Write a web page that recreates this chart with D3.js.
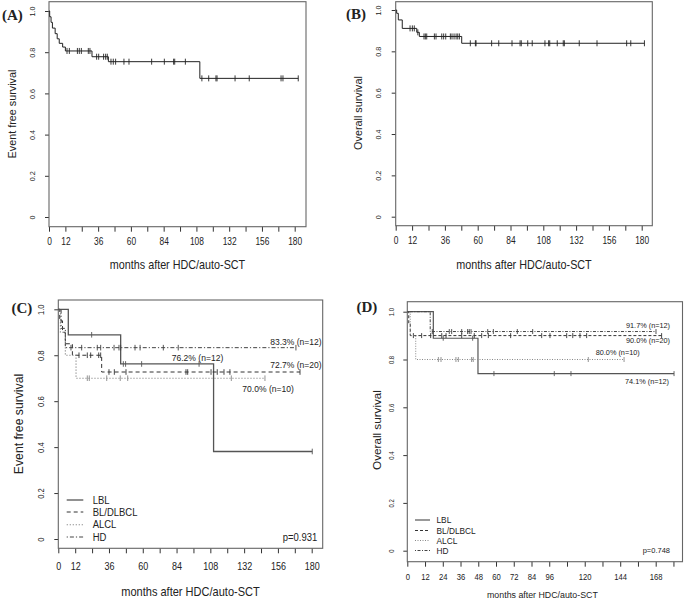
<!DOCTYPE html>
<html><head><meta charset="utf-8">
<script src="https://cdn.jsdelivr.net/npm/d3@7"></script>
<style>
body{margin:0;background:#fff}
svg{display:block}
text{font-family:"Liberation Sans",Arial,Helvetica,sans-serif;fill:#222}
</style>
</head><body>
<svg id="c" width="685" height="601"></svg>
<script>
// ---------- shared axis data ----------
const monthTicks = [0,12,24,36,48,60,72,84,96,108,120,132,144,156,168,180];
const monthLabelsABC = [0,12,36,60,84,108,132,156,180];
const monthLabelsD = [0,12,24,36,48,60,72,84,96,120,144,168];
const survTicks = [0,0.2,0.4,0.6,0.8,1.0];
const survTickLabels = ["0","0.2","0.4","0.6","0.8","1.0"];
const groupNames = ["LBL","BL/DLBCL","ALCL","HD"];

// ---------- (A) event free survival, all patients ----------
const efsAllTimes = [0,0.5,1.5,2.5,4.5,6,7.5,10,12,31.5,43.5,110.5];
const efsAllSurv  = [1,0.972,0.945,0.917,0.89,0.865,0.843,0.825,0.806,0.778,0.754,0.673];
const efsAllCensor = [13.2,14.9,20.8,22.2,23.7,28.8,30,34.9,36.4,40,41.5,42.7,45.4,47.1,48.8,54.9,58.6,75.2,84.5,91.3,92.1,99.9,112,117,122.3,123.1,136.3,146.7,170,171.4,182.6];
const efsAllEnd = 182.6;

// ---------- (B) overall survival, all patients ----------
const osAllTimes = [0,0.7,1.9,4.8,15.4,17.3,48.3];
const osAllSurv  = [1,0.984,0.952,0.911,0.892,0.872,0.839];
const osAllCensor = [10.5,12.2,13.6,16.2,20.7,21.7,22.7,28.3,29.5,33.7,35.1,36.6,40,41.2,42.7,44.2,45.4,46.6,54.6,58.3,58.8,70.2,75.4,85.1,91,91.9,96.6,99.9,109.2,111.9,112.7,118.2,122.6,123.4,134.3,147.3,169,172,182];
const osAllEnd = 182;

// ---------- (C) event free survival by group ----------
const efsLBLTimes = [0,7.1,44.3,110.3];
const efsLBLSurv  = [1,0.889,0.762,0.381];
const efsLBLCensor = [23.7,46.2,47.8,59.2,100,180.4];
const efsLBLEnd = 180.4;
const efsBLTimes = [0,1,3,5,10,30.8];
const efsBLSurv  = [1,0.95,0.9,0.85,0.8,0.727];
const efsBLCensor = [14.7,20.6,23,28.7,30.1,36,39.8,48.1,90.7,91.9,108.5,112.9,117.7,121.9,171.7];
const efsBLEnd = 171.7;
const efsALCLTimes = [0,1.5,5,12.6];
const efsALCLSurv  = [1,0.9,0.8,0.7];
const efsALCLCensor = [20.6,22,34.4,44,49.3,122.9,146.8];
const efsALCLEnd = 146.8;
const efsHDTimes = [0,2,5];
const efsHDSurv  = [1,0.917,0.833];
const efsHDCensor = [9,16.6,27.7,30.1,39.6,43.1,44.3,54.5,58.1,74.6,85.2,168.8];
const efsHDEnd = 168.8;
const efsGroupLabels = ["76.2% (n=12)","72.7% (n=20)","70.0% (n=10)","83.3% (n=12)"];
const efsPValue = "p=0.931";

// ---------- (D) overall survival by group ----------
const osLBLTimes = [0,17.6,47.8];
const osLBLSurv  = [1,0.889,0.741];
const osLBLCensor = [24.3,44.2,58.6,99.4,110.7,180.4];
const osLBLEnd = 180.4;
const osBLTimes = [0,1,2];
const osBLSurv  = [1,0.95,0.9];
const osBLCensor = [4.1,9.7,15.8,23.3,26.2,36.8,45.3,50.3,54.8,69.9,90.9,96.5,107.8,111.9,116.8,121.3,172];
const osBLEnd = 172;
const osALCLTimes = [0,2,5.7];
const osALCLSurv  = [1,0.9,0.8];
const osALCLCensor = [21,22.8,32.9,34.5,43.5,44.6,122.4,146.6];
const osALCLEnd = 146.6;
const osHDTimes = [0,15.5];
const osHDSurv  = [1,0.917];
const osHDCensor = [16.9,28.4,30,36.8,40.8,41.9,43.1,54.4,58.2,74.4,84.8,168.2];
const osHDEnd = 168.2;
const osGroupLabels = ["74.1% (n=12)","90.0% (n=20)","80.0% (n=10)","91.7% (n=12)"];
const osPValue = "p=0.748";

// ---------- drawing ----------
const svg = d3.select("#c");

function label(g, x, y, str, o = {}) {
  const t = g.append("text")
    .attr("transform", `translate(${x},${y}) rotate(${o.rot || 0}) scale(${o.sx || 1},1)`)
    .attr("text-anchor", o.anchor || "middle")
    .attr("dominant-baseline", "central")
    .style("font-size", (o.size || 11) + "px")
    .text(str);
  if (o.family) t.style("font-family", o.family);
  if (o.weight) t.style("font-weight", o.weight);
  return t;
}

function survAt(times, surv, t) {
  let s = surv[0];
  for (let i = 0; i < times.length; i++) if (times[i] <= t) s = surv[i];
  return s;
}

function drawPanel(p) {
  const g = svg.append("g");
  const x = d3.scaleLinear().domain([0, p.xMax]).range([p.x0, p.x1]);
  const y = d3.scaleLinear().domain([0, 1]).range([p.y0, p.y1]);

  // x axis
  const gx = g.append("g").attr("transform", `translate(0,${p.fy1})`)
    .call(d3.axisBottom(x).tickValues(monthTicks).tickSize(5)
      .tickFormat(d => p.xLabels.includes(d) ? String(d) : ""));
  gx.select(".domain").remove();
  gx.selectAll(".tick line").attr("stroke", "#333");
  gx.selectAll(".tick text")
    .attr("y", null).attr("dy", null)
    .attr("dominant-baseline", "central")
    .attr("transform", `translate(0,${p.xLabY - p.fy1}) scale(${p.xLabSx},1)`)
    .style("font-size", p.xLabSize + "px");

  // y axis
  const gy = g.append("g").attr("transform", `translate(${p.fx0},0)`)
    .call(d3.axisLeft(y).tickValues(survTicks).tickSize(4)
      .tickFormat((d, i) => survTickLabels[i]));
  gy.select(".domain").remove();
  gy.selectAll(".tick line").attr("stroke", "#333");
  gy.selectAll(".tick text")
    .attr("x", null).attr("dy", null)
    .attr("text-anchor", "middle")
    .attr("dominant-baseline", "central")
    .attr("transform", `translate(${p.yLabX - p.fx0},0) rotate(-90) scale(${p.yLabSx},1)`)
    .style("font-size", p.yLabSize + "px");

  // frame
  g.append("rect").attr("x", p.fx0).attr("y", p.fy0)
    .attr("width", p.fx1 - p.fx0).attr("height", p.fy1 - p.fy0)
    .attr("fill", "none").attr("stroke", "#666").attr("stroke-width", 1.1);

  // titles
  label(g, (p.fx0 + p.fx1) / 2 + (p.titleDx || 0), p.xTitleY, "months after HDC/auto-SCT", {size: p.xTitleSize, sx: p.xTitleSx});
  label(g, p.yTitleX, p.yTitleY, p.yTitle, {size: p.yTitleSize, rot: -90, sx: p.yTitleSx || 1});
  label(g, p.tagX, p.tagY, p.tag, {size: 15, anchor: "start", family: "'Liberation Serif','Times New Roman',serif", weight: "bold"});

  const line = d3.line().x(d => x(d[0])).y(d => y(d[1])).curve(d3.curveStepAfter);
  p.curves.forEach(c => {
    const pts = c.times.map((t, i) => [t, c.surv[i]]);
    pts.push([c.end, c.surv[c.surv.length - 1]]);
    g.append("path").attr("d", line(pts)).attr("fill", "none")
      .attr("stroke", c.color).attr("stroke-width", c.width)
      .attr("stroke-dasharray", c.dash || null);
    g.append("g").selectAll("line").data(c.censor).join("line")
      .attr("x1", d => x(d)).attr("x2", d => x(d))
      .attr("y1", d => y(survAt(c.times, c.surv, d)) - p.cens)
      .attr("y2", d => y(survAt(c.times, c.surv, d)) + p.cens)
      .attr("stroke", c.color).attr("stroke-width", 0.9);
  });
  return {g, x, y};
}

const solid = {color: "#333", width: 1};

// (A)
drawPanel({
  xMax: 180, x0: 49, x1: 294.7, y0: 217, y1: 11,
  fx0: 49, fx1: 306, fy0: 1.7, fy1: 226.7,
  xLabels: monthLabelsABC, xLabY: 242, xLabSize: 10, xLabSx: 0.84,
  yLabX: 32.5, yLabSize: 8, yLabSx: 0.9,
  xTitleY: 265, xTitleSize: 13, xTitleSx: 0.83,
  yTitle: "Event free survival", yTitleX: 12.3, yTitleY: 114, yTitleSize: 10.8,
  tag: "(A)", tagX: 2, tagY: 14.5, cens: 3,
  curves: [{times: efsAllTimes, surv: efsAllSurv, censor: efsAllCensor, end: efsAllEnd, color: "#222", width: 1}]
});

// (B)
drawPanel({
  xMax: 180, x0: 395.7, x1: 641.7, y0: 216.7, y1: 10,
  fx0: 395.7, fx1: 652.3, fy0: 1.7, fy1: 225.7,
  xLabels: monthLabelsABC, xLabY: 241, xLabSize: 10, xLabSx: 0.84,
  yLabX: 378.3, yLabSize: 8, yLabSx: 0.9,
  xTitleY: 265, xTitleSize: 13, xTitleSx: 0.83,
  yTitle: "Overall survival", yTitleX: 357.8, yTitleY: 113, yTitleSize: 10.8,
  tag: "(B)", tagX: 346, tagY: 13.5, cens: 3,
  curves: [{times: osAllTimes, surv: osAllSurv, censor: osAllCensor, end: osAllEnd, color: "#222", width: 1}]
});

// (C)
const dashC = ["", "4,3", "1.2,1.8", "1.2,2,4,2"];
const colC = ["#555", "#333", "#888", "#444"];
const widC = [1.3, 1, 1.1, 1];
const pc = drawPanel({
  xMax: 180, x0: 58.3, x1: 311.7, y0: 539, y1: 309.3,
  fx0: 58.3, fx1: 322.7, fy0: 300, fy1: 548.3,
  xLabels: monthLabelsABC, xLabY: 566.7, xLabSize: 10, xLabSx: 0.9,
  yLabX: 41.7, yLabSize: 8.5, yLabSx: 0.9,
  xTitleY: 592, xTitleSize: 12, xTitleSx: 0.92,
  yTitle: "Event free survival", yTitleX: 19, yTitleY: 424, yTitleSize: 12.2,
  tag: "(C)", tagX: 11.5, tagY: 308, cens: 2.8,
  curves: [
    {times: efsLBLTimes, surv: efsLBLSurv, censor: efsLBLCensor, end: efsLBLEnd, color: colC[0], width: widC[0], dash: dashC[0]},
    {times: efsBLTimes, surv: efsBLSurv, censor: efsBLCensor, end: efsBLEnd, color: colC[1], width: widC[1], dash: dashC[1]},
    {times: efsALCLTimes, surv: efsALCLSurv, censor: efsALCLCensor, end: efsALCLEnd, color: colC[2], width: widC[2], dash: dashC[2]},
    {times: efsHDTimes, surv: efsHDSurv, censor: efsHDCensor, end: efsHDEnd, color: colC[3], width: widC[3], dash: dashC[3]}
  ]
});
// group annotations C
label(pc.g, 171.7, 357.7, efsGroupLabels[0], {size: 9.3, sx: 0.92, anchor: "start"});
label(pc.g, 321.7, 365, efsGroupLabels[1], {size: 9.3, sx: 0.92, anchor: "end"});
label(pc.g, 242.3, 389.3, efsGroupLabels[2], {size: 9.3, sx: 0.92, anchor: "start"});
label(pc.g, 321.7, 342.3, efsGroupLabels[3], {size: 9.3, sx: 0.92, anchor: "end"});
// legend C
const legYC = [500, 512, 524.7, 537];
groupNames.forEach((n, i) => {
  pc.g.append("line").attr("x1", 66.7).attr("x2", 83.3).attr("y1", legYC[i]).attr("y2", legYC[i])
    .attr("stroke", colC[i]).attr("stroke-width", widC[i]).attr("stroke-dasharray", dashC[i] || null);
  label(pc.g, 92.7, legYC[i], n, {size: 10.2, sx: 0.93, anchor: "start"});
});
label(pc.g, 317.3, 537.3, efsPValue, {size: 10.2, sx: 0.93, anchor: "end"});

// (D)
const dashD = ["", "3,2", "1,1.5", "1,1.5,3,1.5"];
const colD = ["#555", "#333", "#888", "#444"];
const widD = [1.2, 1, 1, 1];
const pd = drawPanel({
  xMax: 168, x0: 407.3, x1: 655.7, y0: 550.7, y1: 311.7,
  fx0: 407.3, fx1: 682.5, fy0: 301.7, fy1: 561.7,
  xLabels: monthLabelsD, xLabY: 576.7, xLabSize: 9, xLabSx: 0.85,
  yLabX: 391, yLabSize: 7, yLabSx: 0.85,
  xTitleY: 595, xTitleSize: 9.5, xTitleSx: 0.93, titleDx: -2.5,
  yTitle: "Overall survival", yTitleX: 376, yTitleY: 430, yTitleSize: 11.7,
  tag: "(D)", tagX: 356.5, tagY: 306.5, cens: 2.5,
  curves: [
    {times: osLBLTimes, surv: osLBLSurv, censor: osLBLCensor, end: osLBLEnd, color: colD[0], width: widD[0], dash: dashD[0]},
    {times: osBLTimes, surv: osBLSurv, censor: osBLCensor, end: osBLEnd, color: colD[1], width: widD[1], dash: dashD[1]},
    {times: osALCLTimes, surv: osALCLSurv, censor: osALCLCensor, end: osALCLEnd, color: colD[2], width: widD[2], dash: dashD[2]},
    {times: osHDTimes, surv: osHDSurv, censor: osHDCensor, end: osHDEnd, color: colD[3], width: widD[3], dash: dashD[3]}
  ]
});
label(pd.g, 669, 381.2, osGroupLabels[0], {size: 7.3, anchor: "end"});
label(pd.g, 670, 340.7, osGroupLabels[1], {size: 7.3, anchor: "end"});
label(pd.g, 595.7, 352.8, osGroupLabels[2], {size: 7.3, anchor: "start"});
label(pd.g, 670, 325.7, osGroupLabels[3], {size: 7.3, anchor: "end"});
const legYD = [520, 530.5, 540.5, 550.5];
groupNames.forEach((n, i) => {
  pd.g.append("line").attr("x1", 415).attr("x2", 430).attr("y1", legYD[i]).attr("y2", legYD[i])
    .attr("stroke", colD[i]).attr("stroke-width", widD[i]).attr("stroke-dasharray", dashD[i] || null);
  label(pd.g, 436.5, legYD[i], n, {size: 8.3, anchor: "start"});
});
label(pd.g, 670, 550.5, osPValue, {size: 7.5, anchor: "end"});
</script>
</body></html>
